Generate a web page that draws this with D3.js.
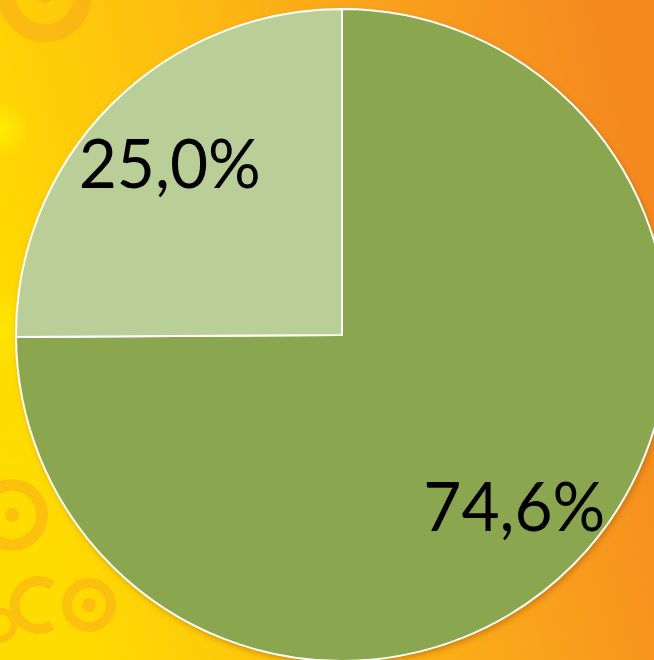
<!DOCTYPE html>
<html><head><meta charset="utf-8">
<script src="https://cdn.jsdelivr.net/npm/d3@7"></script>
<style>html,body{margin:0;padding:0;overflow:hidden;background:#fbb515}</style>
</head><body>
<svg id="chart" width="654" height="660"></svg>
<script>
const categories = ["A", "B"];
const values = [74.6, 25.0];
const labels = ["74,6%", "25,0%"];
const colors = ["#8aa74f", "#bacf98"];

const W = 654, H = 660;
const svg = d3.select("#chart");
const defs = svg.append("defs");

const bg = defs.append("linearGradient").attr("id","bg")
  .attr("x1","0%").attr("y1","55%").attr("x2","100%").attr("y2","30%");
bg.append("stop").attr("offset","0%").attr("stop-color","#ffdc00");
bg.append("stop").attr("offset","35%").attr("stop-color","#fdbf10");
bg.append("stop").attr("offset","70%").attr("stop-color","#f9a01c");
bg.append("stop").attr("offset","100%").attr("stop-color","#f5881f");
svg.append("rect").attr("width",W).attr("height",H).attr("fill","url(#bg)");

const glow = defs.append("radialGradient").attr("id","glow");
glow.append("stop").attr("offset","0%").attr("stop-color","#fff000").attr("stop-opacity",0.9);
glow.append("stop").attr("offset","100%").attr("stop-color","#fff000").attr("stop-opacity",0);
svg.append("circle").attr("cx",0).attr("cy",130).attr("r",30).attr("fill","url(#glow)");
svg.append("circle").attr("cx",0).attr("cy",330).attr("r",40).attr("fill","url(#glow)").attr("opacity",0.6);

// decorative rings
const deco = svg.append("g").attr("fill","none").attr("stroke","#f7a020").attr("opacity",0.42);
deco.append("circle").attr("cx",45).attr("cy",-5).attr("r",38).attr("stroke-width",18);
deco.append("circle").attr("cx",45).attr("cy",-5).attr("r",8).attr("fill","#f7a020").attr("stroke","none");
deco.append("circle").attr("cx",12).attr("cy",515).attr("r",30).attr("stroke-width",12);
deco.append("circle").attr("cx",12).attr("cy",515).attr("r",7).attr("fill","#f7a020").attr("stroke","none");
deco.append("path").attr("d","M52,585 A24,24 0 1,0 52,625").attr("stroke-width",10);
deco.append("circle").attr("cx",89).attr("cy",605).attr("r",22).attr("stroke-width",10);
deco.append("circle").attr("cx",89).attr("cy",605).attr("r",7).attr("fill","#f7a020").attr("stroke","none");
deco.append("path").attr("d","M22,438 A14,14 0 1,0 22,456").attr("stroke","#ffe000").attr("stroke-width",6);
deco.append("circle").attr("cx",0).attr("cy",625).attr("r",14).attr("stroke-width",7);

const cx = 342, cy = 335, r = 326;
const shadow = defs.append("filter").attr("id","shadow").attr("x","-10%").attr("y","-10%").attr("width","120%").attr("height","120%");
shadow.append("feDropShadow").attr("dx",2).attr("dy",3).attr("stdDeviation",3).attr("flood-color","#a05000").attr("flood-opacity",0.5);

const pie = d3.pie().sort(null).value(d => d)(values);
const arc = d3.arc().innerRadius(0).outerRadius(r);
const labelArc = d3.arc().innerRadius(r*0.745).outerRadius(r*0.745);

const g = svg.append("g").attr("transform",`translate(${cx},${cy})`);
g.append("circle").attr("r",r).attr("fill","#8aa74f").attr("filter","url(#shadow)");
g.selectAll("path.slice").data(pie).join("path").attr("class","slice")
  .attr("d",arc).attr("fill",(d,i)=>colors[i])
  .attr("stroke","#ffffff").attr("stroke-width",2).attr("stroke-linejoin","round");

g.selectAll("text.lbl").data(pie).join("text").attr("class","lbl")
  .attr("transform",d=>`translate(${labelArc.centroid(d)})`)
  .attr("text-anchor","middle").attr("dy","0.36em")
  .attr("font-family","Lato, 'Open Sans', sans-serif").attr("font-size",68)
  .attr("fill","#000")
  .attr("textLength",182).attr("lengthAdjust","spacingAndGlyphs")
  .text((d,i)=>labels[i]);
</script>
</body></html>
